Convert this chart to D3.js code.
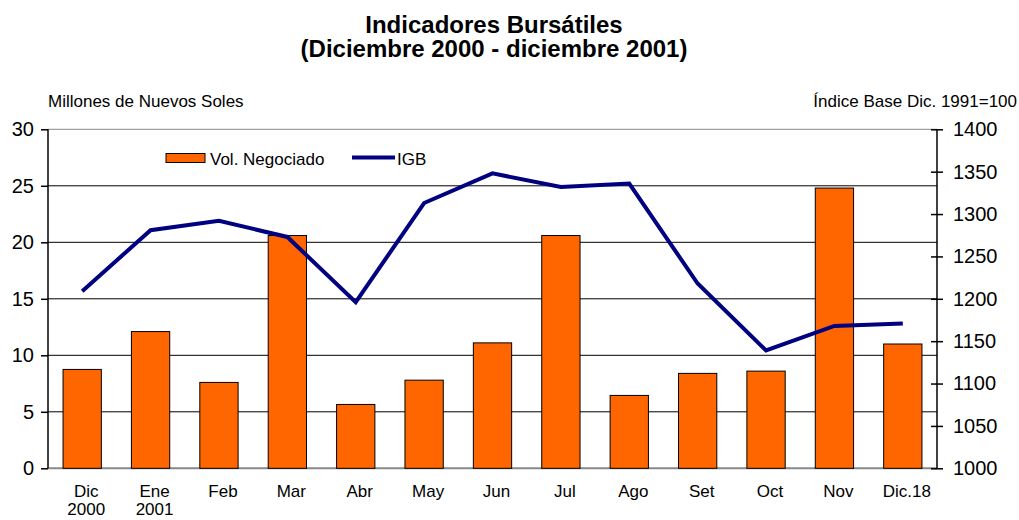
<!DOCTYPE html>
<html>
<head>
<meta charset="utf-8">
<script src="https://cdn.jsdelivr.net/npm/d3@7/dist/d3.min.js"></script>
<style>
    body { margin: 0; background: #fff; }
    text { font-family: "Liberation Sans", Arial, sans-serif; fill: #000; }
</style>
</head>
<body>
<script>
(function () {

    //chart data
    var months = ["Dic\n2000", "Ene\n2001", "Feb", "Mar", "Abr", "May", "Jun", "Jul", "Ago", "Set", "Oct", "Nov", "Dic.18"];
    var volumen = [8.75, 12.1, 7.6, 20.6, 5.65, 7.8, 11.1, 20.6, 6.45, 8.4, 8.6, 24.8, 11.0];
    var igb = [1209, 1281, 1292, 1273, 1196, 1313, 1348, 1332, 1336, 1218, 1139, 1168, 1171];
    var leftTicks = [0, 5, 10, 15, 20, 25, 30];
    var rightTicks = [1000, 1050, 1100, 1150, 1200, 1250, 1300, 1350, 1400];

    window.onload = setChart();

    function setChart() {
        var width = 1019,
            height = 520;

        var svg = d3.select("body")
            .append("svg")
            .attr("width", width)
            .attr("height", height);

        //plot frame
        var left = 48, right = 937, top = 129.3, bottom = 468.3;

        var x = d3.scaleBand()
            .domain(months)
            .range([left, right])
            .paddingInner(0.44)
            .paddingOuter(0.22);

        var yL = d3.scaleLinear().domain([0, 30]).range([bottom, top]);
        var yR = d3.scaleLinear().domain([1000, 1400]).range([bottom, top]);

        //title
        var title = svg.append("text")
            .attr("x", 494)
            .attr("y", 32.5)
            .attr("text-anchor", "middle")
            .style("font-size", "24px")
            .style("font-weight", "bold");
        title.append("tspan").attr("x", 494).text("Indicadores Bursátiles");
        title.append("tspan").attr("x", 494).attr("dy", 24.5).text("(Diciembre 2000 - diciembre 2001)");

        //axis unit labels
        svg.append("text")
            .attr("x", 48)
            .attr("y", 106.5)
            .style("font-size", "17px")
            .text("Millones de Nuevos Soles");

        svg.append("text")
            .attr("x", 1017)
            .attr("y", 106.5)
            .attr("text-anchor", "end")
            .style("font-size", "17px")
            .text("Índice Base Dic. 1991=100");

        //gridlines
        svg.selectAll(".grid")
            .data(leftTicks)
            .enter()
            .append("line")
            .attr("class", "grid")
            .attr("x1", left)
            .attr("x2", right)
            .attr("y1", function (d) { return yL(d); })
            .attr("y2", function (d) { return yL(d); })
            .style("stroke", function (d) { return (d == 0 || d == 30) ? "#888" : "#000"; })
            .style("stroke-width", function (d) { return d == 0 ? 2 : 1; });

        //bars
        svg.selectAll(".bars")
            .data(volumen)
            .enter()
            .append("rect")
            .attr("class", "bars")
            .attr("x", function (d, i) { return x(months[i]); })
            .attr("width", x.bandwidth())
            .attr("y", function (d) { return yL(d); })
            .attr("height", function (d) { return yL(0) - yL(d); })
            .style("fill", "#FF6600")
            .style("stroke", "#000")
            .style("stroke-width", 1);

        //IGB line
        var line = d3.line()
            .x(function (d, i) { return x(months[i]) + x.bandwidth() / 2; })
            .y(function (d) { return yR(d); });

        svg.append("path")
            .datum(igb)
            .attr("d", line)
            .style("fill", "none")
            .style("stroke", "#000080")
            .style("stroke-width", 4)
            .style("stroke-linejoin", "miter");

        //left axis
        var axisL = svg.append("g")
            .attr("transform", "translate(" + left + ",0)")
            .call(d3.axisLeft(yL).tickValues(leftTicks).tickSize(7).tickPadding(8));
        axisL.select(".domain").remove();
        axisL.append("line")
            .attr("x1", 0).attr("x2", 0)
            .attr("y1", top).attr("y2", bottom)
            .style("stroke", "#000").style("stroke-width", 1.5);
        axisL.selectAll(".tick line").style("stroke-width", 1.5);
        axisL.selectAll(".tick text")
            .attr("x", -14)
            .style("font-size", "20px")
            .style("font-family", "'Liberation Sans', Arial, sans-serif");

        //right axis
        var axisR = svg.append("g")
            .attr("transform", "translate(" + right + ",0)")
            .call(d3.axisRight(yR).tickValues(rightTicks).tickFormat(d3.format("d")).tickSize(6).tickPadding(10));
        axisR.select(".domain").remove();
        axisR.append("line")
            .attr("x1", 0).attr("x2", 0)
            .attr("y1", top).attr("y2", bottom)
            .style("stroke", "#000").style("stroke-width", 1.5);
        axisR.selectAll(".tick line").attr("x1", -6).style("stroke-width", 1.5);
        axisR.selectAll(".tick text")
            .attr("x", 16)
            .style("font-size", "20px")
            .style("font-family", "'Liberation Sans', Arial, sans-serif");

        //month labels
        var labels = svg.selectAll(".months")
            .data(months)
            .enter()
            .append("text")
            .attr("class", "months")
            .attr("text-anchor", "middle")
            .attr("y", 497)
            .style("font-size", "17px");
        labels.each(function (d) {
            var cx = x(d) + x.bandwidth() / 2 + 4;
            d.split("\n").forEach(function (part, j) {
                d3.select(this).append("tspan")
                    .attr("x", cx)
                    .attr("dy", j == 0 ? 0 : 18)
                    .text(part);
            }, this);
        });

        //legend
        var legend = svg.append("g");
        legend.append("rect")
            .attr("x", 166)
            .attr("y", 153.5)
            .attr("width", 39)
            .attr("height", 9)
            .style("fill", "#FF6600")
            .style("stroke", "#000")
            .style("stroke-width", 1);
        legend.append("text")
            .attr("x", 210)
            .attr("y", 165)
            .style("font-size", "17px")
            .text("Vol. Negociado");
        legend.append("line")
            .attr("x1", 352)
            .attr("x2", 395)
            .attr("y1", 157.5)
            .attr("y2", 157.5)
            .style("stroke", "#000080")
            .style("stroke-width", 4);
        legend.append("text")
            .attr("x", 397)
            .attr("y", 165)
            .style("font-size", "17px")
            .text("IGB");
    };

})();
</script>
</body>
</html>
